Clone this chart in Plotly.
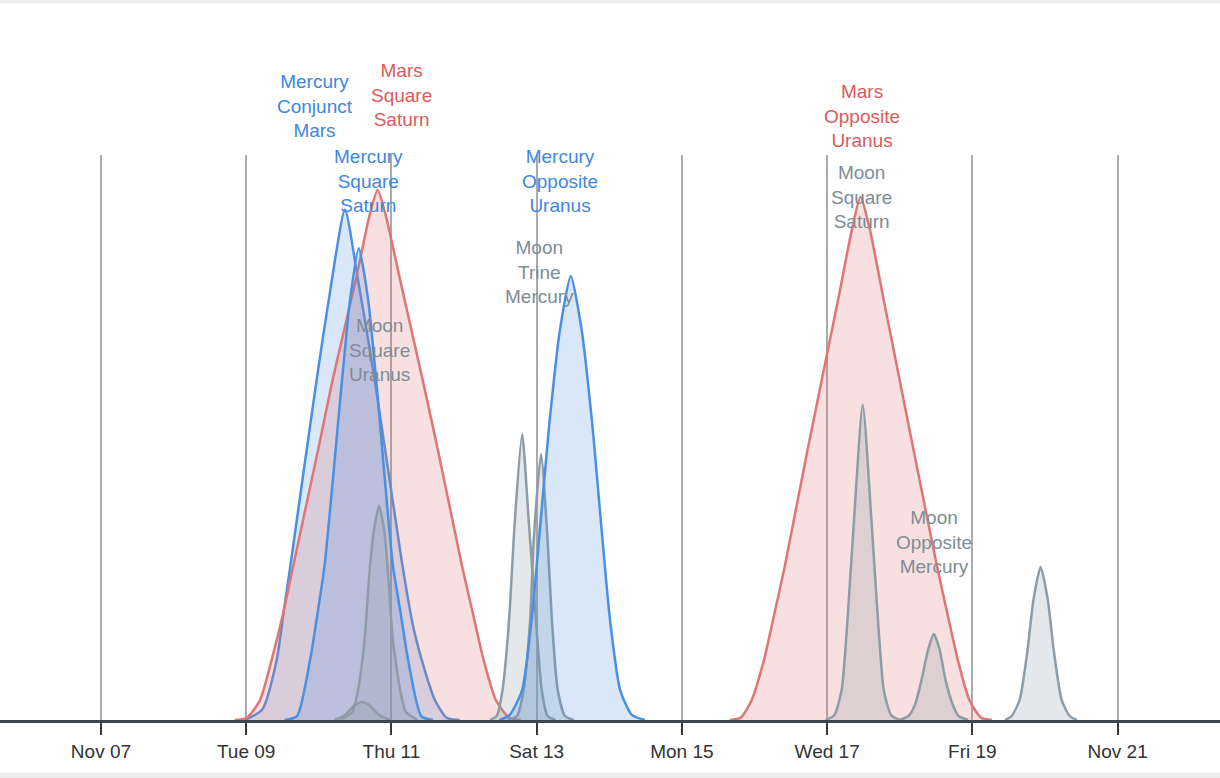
import pandas as pd
import plotly.graph_objects as go

# x values are fractional November 2021 days (10.5 = Nov 10, 12:00)
# y values are a relative strength, 0-100
START = pd.Timestamp("2021-11-01")

merc_conj_mars_days = [8.98, 9.22, 9.42, 9.52, 9.60, 9.97, 10.18, 10.36, 10.54, 10.77, 11.14, 11.30, 11.46, 11.60, 11.76, 11.94]
merc_conj_mars_vals = [0, 1.8, 10.6, 19.5, 26.5, 60.2, 77.9, 90.3, 77.9, 60.2, 28.3, 16.5, 8.8, 3.5, 0.4, 0]

mars_sq_saturn_days = [8.84, 9.01, 9.19, 9.35, 9.52, 9.65, 9.99, 10.19, 10.51, 10.70, 10.81, 10.92, 11.12, 11.43, 11.64, 11.97, 12.11, 12.27, 12.44, 12.62, 12.78]
mars_sq_saturn_vals = [0, 0.4, 3.5, 10.6, 19.5, 27.4, 47.8, 60.2, 77.9, 89.4, 93.8, 89.4, 77.9, 60.2, 47.8, 27.4, 19.5, 10.6, 3.5, 0.4, 0]

merc_sq_saturn_days = [9.53, 9.70, 9.88, 9.99, 10.08, 10.32, 10.43, 10.55, 10.68, 10.79, 11.02, 11.12, 11.23, 11.41, 11.57]
merc_sq_saturn_vals = [0, 0.7, 10.6, 19.5, 27.4, 60.2, 74.3, 83.5, 74.3, 60.2, 27.4, 19.5, 10.6, 0.7, 0]

moon_bump_days = [10.22, 10.36, 10.50, 10.59, 10.69, 10.83, 10.98]
moon_bump_vals = [0, 0.9, 2.7, 3.2, 2.7, 0.9, 0]

moon_sq_uranus_days = [10.29, 10.46, 10.54, 10.63, 10.70, 10.76, 10.83, 10.90, 10.95, 11.02, 11.12, 11.20, 11.36]
moon_sq_uranus_vals = [0, 1.4, 5.3, 14.2, 26.5, 33.6, 37.9, 33.6, 26.5, 14.2, 5.3, 1.4, 0]

moon_trine_merc_days = [12.36, 12.45, 12.53, 12.62, 12.70, 12.80, 12.89, 12.99, 13.07, 13.15, 13.26]
moon_trine_merc_vals = [0, 0.7, 5.3, 17.7, 35.4, 50.6, 35.4, 17.7, 5.3, 0.7, 0]

moon_second_days = [12.60, 12.73, 12.82, 12.91, 12.96, 13.06, 13.15, 13.21, 13.29, 13.39, 13.51]
moon_second_vals = [0, 0.7, 5.3, 17.7, 31.9, 47.1, 31.9, 17.7, 5.3, 0.7, 0]

merc_opp_uranus_days = [12.49, 12.63, 12.80, 12.93, 13.18, 13.32, 13.47, 13.62, 13.76, 14.01, 14.15, 14.31, 14.49]
merc_opp_uranus_vals = [0, 0.9, 5.3, 17.7, 53.1, 69.0, 78.6, 69.0, 53.1, 17.7, 5.3, 0.9, 0]

mars_opp_uranus_days = [15.66, 15.81, 15.96, 16.13, 16.27, 16.42, 16.73, 17.15, 17.34, 17.46, 17.59, 17.78, 18.19, 18.51, 18.66, 18.80, 18.96, 19.12, 19.27]
mars_opp_uranus_vals = [0, 0.4, 3.5, 10.6, 18.6, 27.4, 47.8, 74.3, 86.7, 92.6, 86.7, 74.3, 47.8, 27.4, 18.6, 10.6, 3.5, 0.4, 0]

moon_sq_saturn_days = [16.98, 17.10, 17.20, 17.28, 17.37, 17.49, 17.61, 17.70, 17.78, 17.88, 18.00]
moon_sq_saturn_vals = [0, 0.9, 5.3, 17.7, 35.4, 55.8, 35.4, 17.7, 5.3, 0.9, 0]

moon_opp_merc_days = [18.00, 18.12, 18.21, 18.30, 18.39, 18.47, 18.55, 18.63, 18.73, 18.81, 18.94]
moon_opp_merc_vals = [0, 0.7, 2.7, 7.1, 12.4, 15.2, 12.4, 7.1, 2.7, 0.7, 0]

moon_last_days = [19.45, 19.54, 19.65, 19.76, 19.84, 19.94, 20.04, 20.12, 20.23, 20.34, 20.44]
moon_last_vals = [0, 0.7, 3.5, 12.4, 21.2, 27.1, 21.2, 12.4, 3.5, 0.7, 0]

tick_days = [7, 9, 11, 13, 15, 17, 19, 21]
tick_text = ["Nov 07", "Tue 09", "Thu 11", "Sat 13", "Mon 15", "Wed 17", "Fri 19", "Nov 21"]

# labels: text, day, height (same units as the curves, may go above 100)
label_text = ["Mercury<br>Conjunct<br>Mars", "Mars<br>Square<br>Saturn", "Mercury<br>Square<br>Saturn",
              "Mercury<br>Opposite<br>Uranus", "Moon<br>Trine<br>Mercury", "Moon<br>Square<br>Uranus",
              "Mars<br>Opposite<br>Uranus", "Moon<br>Square<br>Saturn", "Moon<br>Opposite<br>Mercury"]
label_day = [9.95, 11.14, 10.68, 13.32, 13.04, 10.84, 17.48, 17.48, 18.47]
label_val = [108.7, 110.6, 95.4, 95.4, 79.3, 65.5, 106.9, 92.6, 31.5]
label_kind = ["mercury", "mars", "mercury", "mercury", "moon", "moon", "mars", "moon", "moon"]

colors = {
    "mercury": ("#4a90e2", "rgba(74,144,226,0.21)", "#3d87e0"),
    "mars": ("#e07575", "rgba(224,112,112,0.22)", "#db5b5b"),
    "moon": ("#8d9ca6", "rgba(142,158,168,0.24)", "#7d8c96"),
}


def to_time(days):
    return [START + pd.Timedelta(days=d - 1) for d in days]


series = [
    ("Mercury Conjunct Mars", merc_conj_mars_days, merc_conj_mars_vals, "mercury"),
    ("Mars Square Saturn", mars_sq_saturn_days, mars_sq_saturn_vals, "mars"),
    ("Mercury Square Saturn", merc_sq_saturn_days, merc_sq_saturn_vals, "mercury"),
    ("Moon", moon_bump_days, moon_bump_vals, "moon"),
    ("Moon Square Uranus", moon_sq_uranus_days, moon_sq_uranus_vals, "moon"),
    ("Moon Trine Mercury", moon_trine_merc_days, moon_trine_merc_vals, "moon"),
    ("Moon", moon_second_days, moon_second_vals, "moon"),
    ("Mercury Opposite Uranus", merc_opp_uranus_days, merc_opp_uranus_vals, "mercury"),
    ("Mars Opposite Uranus", mars_opp_uranus_days, mars_opp_uranus_vals, "mars"),
    ("Moon Square Saturn", moon_sq_saturn_days, moon_sq_saturn_vals, "moon"),
    ("Moon Opposite Mercury", moon_opp_merc_days, moon_opp_merc_vals, "moon"),
    ("Moon", moon_last_days, moon_last_vals, "moon"),
]

fig = go.Figure()
for name, days, vals, kind in series:
    line_c, fill_c, _ = colors[kind]
    fig.add_trace(go.Scatter(
        x=to_time(days), y=vals, name=name,
        mode="lines", line=dict(color=line_c, width=2.5, shape="spline", smoothing=0.6),
        fill="tozeroy", fillcolor=fill_c,
    ))

for txt, d, v, kind in zip(label_text, label_day, label_val, label_kind):
    fig.add_annotation(
        x=to_time([d])[0], y=v / 100, xref="x", yref="paper",
        text=txt, showarrow=False, xanchor="center", yanchor="middle",
        font=dict(size=19, color=colors[kind][2]),
    )

# light grey page edges
fig.add_shape(type="rect", xref="paper", yref="paper", x0=-0.01, x1=1.01, y0=1.269, y1=1.29,
              fillcolor="#ececec", line_width=0, layer="above")
fig.add_shape(type="rect", xref="paper", yref="paper", x0=-0.01, x1=1.01, y0=-0.12, y1=-0.094,
              fillcolor="#ececec", line_width=0, layer="above")

fig.update_layout(
    width=1220, height=778,
    margin=dict(l=0, r=0, t=155, b=58),
    paper_bgcolor="white", plot_bgcolor="white",
    showlegend=False, hovermode=False,
    font=dict(family="Liberation Sans, Arial, sans-serif"),
    xaxis=dict(
        type="date",
        range=to_time([5.61, 22.41]),
        tickvals=to_time(tick_days), ticktext=tick_text,
        showgrid=True, gridcolor="#ababab", gridwidth=1.5,
        ticks="outside", ticklen=12, tickwidth=2, tickcolor="#3a3a3a",
        showline=True, linecolor="#3f464b", linewidth=3,
        tickfont=dict(size=19, color="#333333"),
        zeroline=False,
    ),
    yaxis=dict(range=[0, 100], visible=False),
)

fig.write_html("out.html", config={"displayModeBar": False},
               post_script="document.body.style.margin = '0';")
